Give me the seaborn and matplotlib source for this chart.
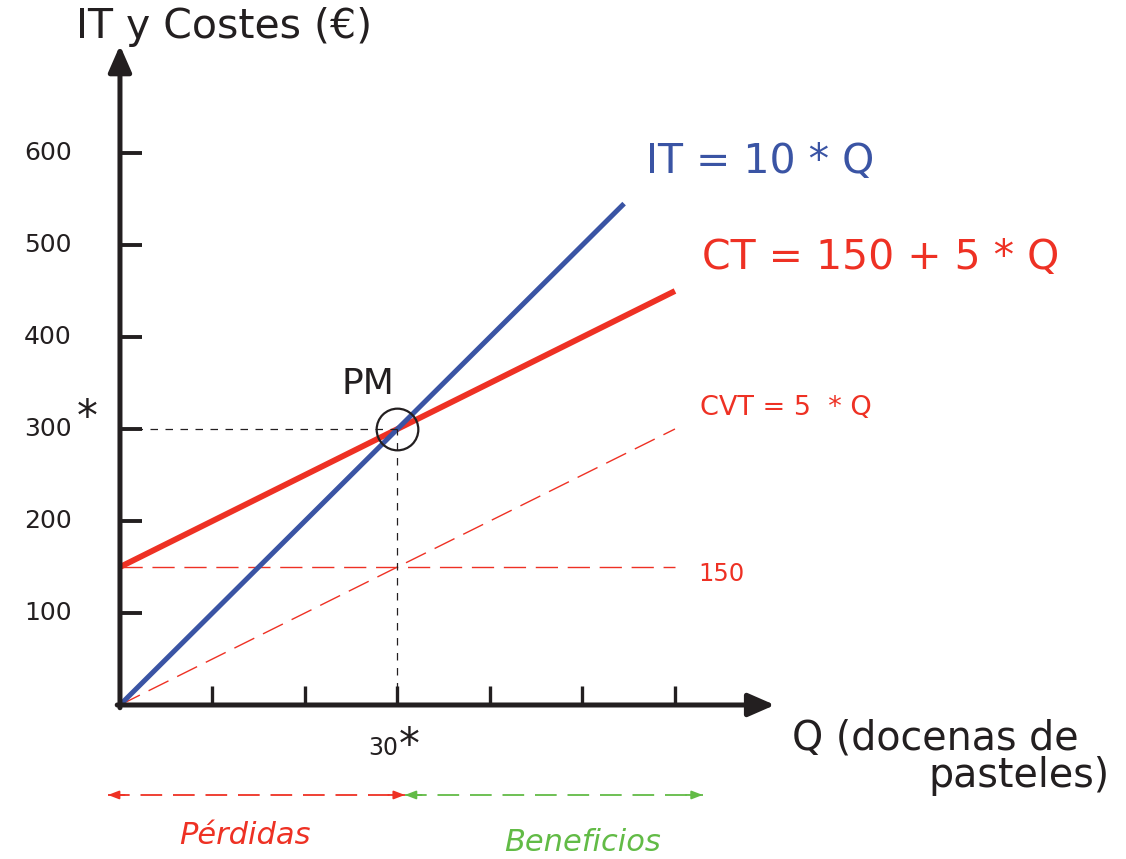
import matplotlib
matplotlib.use("Agg")
import matplotlib.pyplot as plt
import seaborn as sns
import pandas as pd

# datos del gráfico (punto muerto)
q_it = [0, 54.5]
it_vals = [0, 545]
q_ct = [0, 60]
ct_vals = [150, 450]
q_cvt = [0, 60]
cvt_vals = [0, 300]
q_cf = [0, 60]
cf_vals = [150, 150]
q_pm = 30
v_pm = 300
y_ticks = [100, 200, 300, 400, 500, 600]
x_ticks = [10, 20, 30, 40, 50, 60]

BLUE = "#3A54A4"
RED = "#EE3124"
GREEN = "#62BB46"
INK = "#231F20"

sns.set_theme(style="white")
plt.rcParams["font.family"] = ["DejaVu Sans"]

fig = plt.figure(figsize=(11.26, 8.59), dpi=100)
ax = fig.add_axes([0, 0, 1, 1])
ax.set_xlim(-12.97, 108.76)
ax.set_ylim(-167.4, 766.3)
ax.axis("off")

# ejes con flechas
ax.annotate("", xy=(0, 717), xytext=(0, -3),
            arrowprops=dict(arrowstyle="-|>,head_length=0.8,head_width=0.35",
                            lw=3.6, color=INK, mutation_scale=20, shrinkA=0, shrinkB=0))
ax.annotate("", xy=(70.8, 0), xytext=(-0.3, 0),
            arrowprops=dict(arrowstyle="-|>,head_length=0.8,head_width=0.35",
                            lw=3.6, color=INK, mutation_scale=20, shrinkA=0, shrinkB=0))

# marcas de los ejes
for t in y_ticks:
    ax.plot([0, 2.4], [t, t], color=INK, lw=2.8, solid_capstyle="butt")
    ax.text(-7.8, t, str(t), ha="center", va="center", fontsize=18, color=INK)
for t in x_ticks:
    ax.plot([t, t], [0, 21], color=INK, lw=2.4, solid_capstyle="butt")

# líneas de coste e ingreso
df_cf = pd.DataFrame({"Q": q_cf, "v": cf_vals})
df_cvt = pd.DataFrame({"Q": q_cvt, "v": cvt_vals})
df_ct = pd.DataFrame({"Q": q_ct, "v": ct_vals})
df_it = pd.DataFrame({"Q": q_it, "v": it_vals})
sns.lineplot(data=df_cf, x="Q", y="v", ax=ax, color=RED, lw=1.0, linestyle=(0, (16, 7)))
sns.lineplot(data=df_cvt, x="Q", y="v", ax=ax, color=RED, lw=1.0, linestyle=(0, (16, 7)))
sns.lineplot(data=df_ct, x="Q", y="v", ax=ax, color=RED, lw=4.2, solid_capstyle="butt")
sns.lineplot(data=df_it, x="Q", y="v", ax=ax, color=BLUE, lw=3.6, solid_capstyle="butt")

# punto muerto
ax.plot([0, q_pm], [v_pm, v_pm], color=INK, lw=0.9, linestyle=(0, (6, 6)))
ax.plot([q_pm, q_pm], [0, v_pm], color=INK, lw=0.9, linestyle=(0, (6, 6)))
ax.plot([q_pm], [v_pm], marker="o", markersize=30, markerfacecolor="none",
        markeredgecolor=INK, markeredgewidth=1.6)
ax.text(26.8, 349, "PM", ha="center", va="center", fontsize=26, color=INK)
ax.text(-3.5, 312, "*", ha="center", va="center", fontsize=30, color=INK)
ax.text(28.5, -47, "30", ha="center", va="center", fontsize=17, color=INK)
ax.text(31.3, -45, "*", ha="center", va="center", fontsize=30, color=INK)

# rótulos
ax.text(-4.7, 737, "IT y Costes (€)", ha="left", va="center", fontsize=29.5, color=INK)
ax.text(56.9, 590, "IT = 10 * Q", ha="left", va="center", fontsize=29.5, color=BLUE)
ax.text(62.9, 486, "CT = 150 + 5 * Q", ha="left", va="center", fontsize=29.5, color=RED)
ax.text(62.7, 323, "CVT = 5  * Q", ha="left", va="center", fontsize=19.5, color=RED)
ax.text(62.5, 142, "150", ha="left", va="center", fontsize=17.5, color=RED)
ax.text(72.7, -36, "Q (docenas de", ha="left", va="center", fontsize=28.5, color=INK)
ax.text(107.0, -77, "pasteles)", ha="right", va="center", fontsize=28.5, color=INK)

# zonas de pérdidas y beneficios
y_arr = -97.8
ax.plot([-1.3, 30.8], [y_arr, y_arr], color=RED, lw=1.3, linestyle=(0, (12, 6)))
ax.plot([30.8, 63.0], [y_arr, y_arr], color=GREEN, lw=1.3, linestyle=(0, (12, 6)))
for x0, x1, c in [(0.5, -1.3, RED), (29.0, 30.8, RED), (32.6, 30.8, GREEN), (61.2, 63.0, GREEN)]:
    ax.annotate("", xy=(x1, y_arr), xytext=(x0, y_arr),
                arrowprops=dict(arrowstyle="-|>,head_length=0.65,head_width=0.25",
                                lw=1.3, color=c, mutation_scale=10, shrinkA=0, shrinkB=0))
ax.text(13.5, -142, "Pérdidas", ha="center", va="center", fontsize=22, style="italic", color=RED)
ax.text(50.0, -150, "Beneficios", ha="center", va="center", fontsize=22, style="italic", color=GREEN)

fig.savefig("out.png", dpi=100, facecolor="white")
